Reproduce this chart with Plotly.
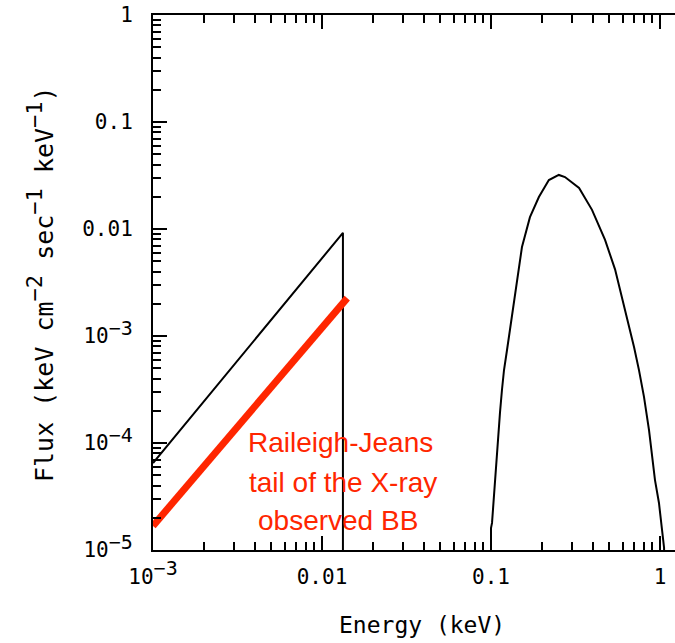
import numpy as np
import plotly.graph_objects as go

# Raileigh-Jeans segment of the model (black)
rj_energy = [0.001, 0.0133, 0.0133]
rj_flux = [6.5e-5, 9.2e-3, 1e-6]

# X-ray blackbody (black)
bb_energy = [0.1, 0.1, 0.1014, 0.1042, 0.1071, 0.1099, 0.1130, 0.1161, 0.1194,
             0.1244, 0.1331, 0.1387, 0.1525, 0.170, 0.192, 0.220, 0.252, 0.274,
             0.332, 0.396, 0.473, 0.542, 0.596, 0.612, 0.656, 0.702, 0.751,
             0.804, 0.861, 0.897, 0.934, 0.986, 1.028, 1.057, 1.07]
bb_flux = [1e-6, 1.6e-5, 1.79e-5, 3.41e-5, 6.5e-5, 1.14e-4, 1.91e-4, 3.13e-4, 4.81e-4,
           7.4e-4, 1.51e-3, 2.4e-3, 6.79e-3, 0.0129, 0.0199, 0.0287, 0.0320, 0.0306,
           0.0242, 0.0151, 7.9e-3, 4.2e-3, 2.3e-3, 1.9e-3, 1.21e-3, 7.9e-4, 4.8e-4,
           2.7e-4, 1.32e-4, 8.1e-5, 4.5e-5, 2.75e-5, 1.54e-5, 1.05e-5, 1e-6]

# Red highlighted RJ tail
red_energy = [0.001, 0.0141]
red_flux = [1.68e-5, 2.26e-3]


def sup(s, size=20):
    return "<sup><span style='font-size:%dpx'>%s</span></sup>" % (size, s)


x_tickvals = [0.001, 0.01, 0.1, 1]
x_ticktext = ["10" + sup("\u22123"), "0.01", "0.1", "1"]
y_tickvals = [1e-5, 1e-4, 1e-3, 0.01, 0.1, 1]
y_ticktext = ["10" + sup("\u22125"), "10" + sup("\u22124"), "10" + sup("\u22123"), "0.01", "0.1", "1"]

annot_lines = ["Raileigh-Jeans", "tail of the X-ray", "observed BB"]
x_title = "Energy (keV)"
y_title = "Flux (keV cm" + sup("\u22122", 22) + " sec" + sup("\u22121", 22) + " keV" + sup("\u22121", 22) + ")"

minor_x = [m * 10.0 ** d for d in range(-3, 1) for m in range(2, 10)]
minor_y = [m * 10.0 ** d for d in range(-5, 0) for m in range(2, 10)]

fig = go.Figure()
fig.add_trace(go.Scatter(x=rj_energy, y=rj_flux, mode="lines",
                         line=dict(color="black", width=2), showlegend=False))
fig.add_trace(go.Scatter(x=bb_energy, y=bb_flux, mode="lines",
                         line=dict(color="black", width=2), showlegend=False))
fig.add_trace(go.Scatter(x=red_energy, y=red_flux, mode="lines",
                         line=dict(color="#ff2600", width=7), showlegend=False))

tickfont = dict(family="DejaVu Sans Mono", size=21, color="black")

fig.update_xaxes(type="log", range=[-3, -3 + 522 / 169], showgrid=False, zeroline=False,
                 showline=True, linecolor="black", linewidth=2, mirror="ticks",
                 ticks="inside", ticklen=14, tickwidth=2, tickcolor="black",
                 tickmode="array", tickvals=x_tickvals, ticktext=x_ticktext,
                 tickfont=tickfont, ticklabelstandoff=7,
                 minor=dict(tickmode="array", tickvals=minor_x, ticks="inside",
                            ticklen=8, tickwidth=2, tickcolor="black", showgrid=False))
fig.update_yaxes(type="log", range=[-5, 0], showgrid=False, zeroline=False,
                 showline=True, linecolor="black", linewidth=2, mirror=False,
                 ticks="inside", ticklen=14, tickwidth=2, tickcolor="black",
                 tickmode="array", tickvals=y_tickvals, ticktext=y_ticktext,
                 tickfont=tickfont, ticklabelstandoff=14,
                 minor=dict(tickmode="array", tickvals=minor_y, ticks="inside",
                            ticklen=8, tickwidth=2, tickcolor="black", showgrid=False))

# red annotation lines (positions in pixel-derived log coords)
line_px = [(340, 442), (343, 482), (338, 520)]
for txt, (px, py) in zip(annot_lines, line_px):
    fig.add_annotation(x=-3 + (px - 153) / 169, y=-(py - 15) / 107, xref="x", yref="y",
                       text=txt, showarrow=False,
                       font=dict(family="Liberation Sans", size=28, color="#ff2600"))

fig.add_annotation(x=(422 - 153) / 522, y=-(625 - 550) / 535, xref="paper", yref="paper",
                   text=x_title, showarrow=False, xanchor="center", yanchor="middle",
                   font=dict(family="DejaVu Sans Mono", size=23, color="black"))
fig.add_annotation(x=-(153 - 40) / 522, y=1 - (284 - 15) / 535, xref="paper", yref="paper",
                   text=y_title, textangle=-90, showarrow=False,
                   xanchor="center", yanchor="middle",
                   font=dict(family="DejaVu Sans Mono", size=25, color="black"))

fig.update_layout(width=675, height=643, margin=dict(l=153, r=0, t=15, b=93),
                  plot_bgcolor="white", paper_bgcolor="white")

fig.write_html("out.html")
